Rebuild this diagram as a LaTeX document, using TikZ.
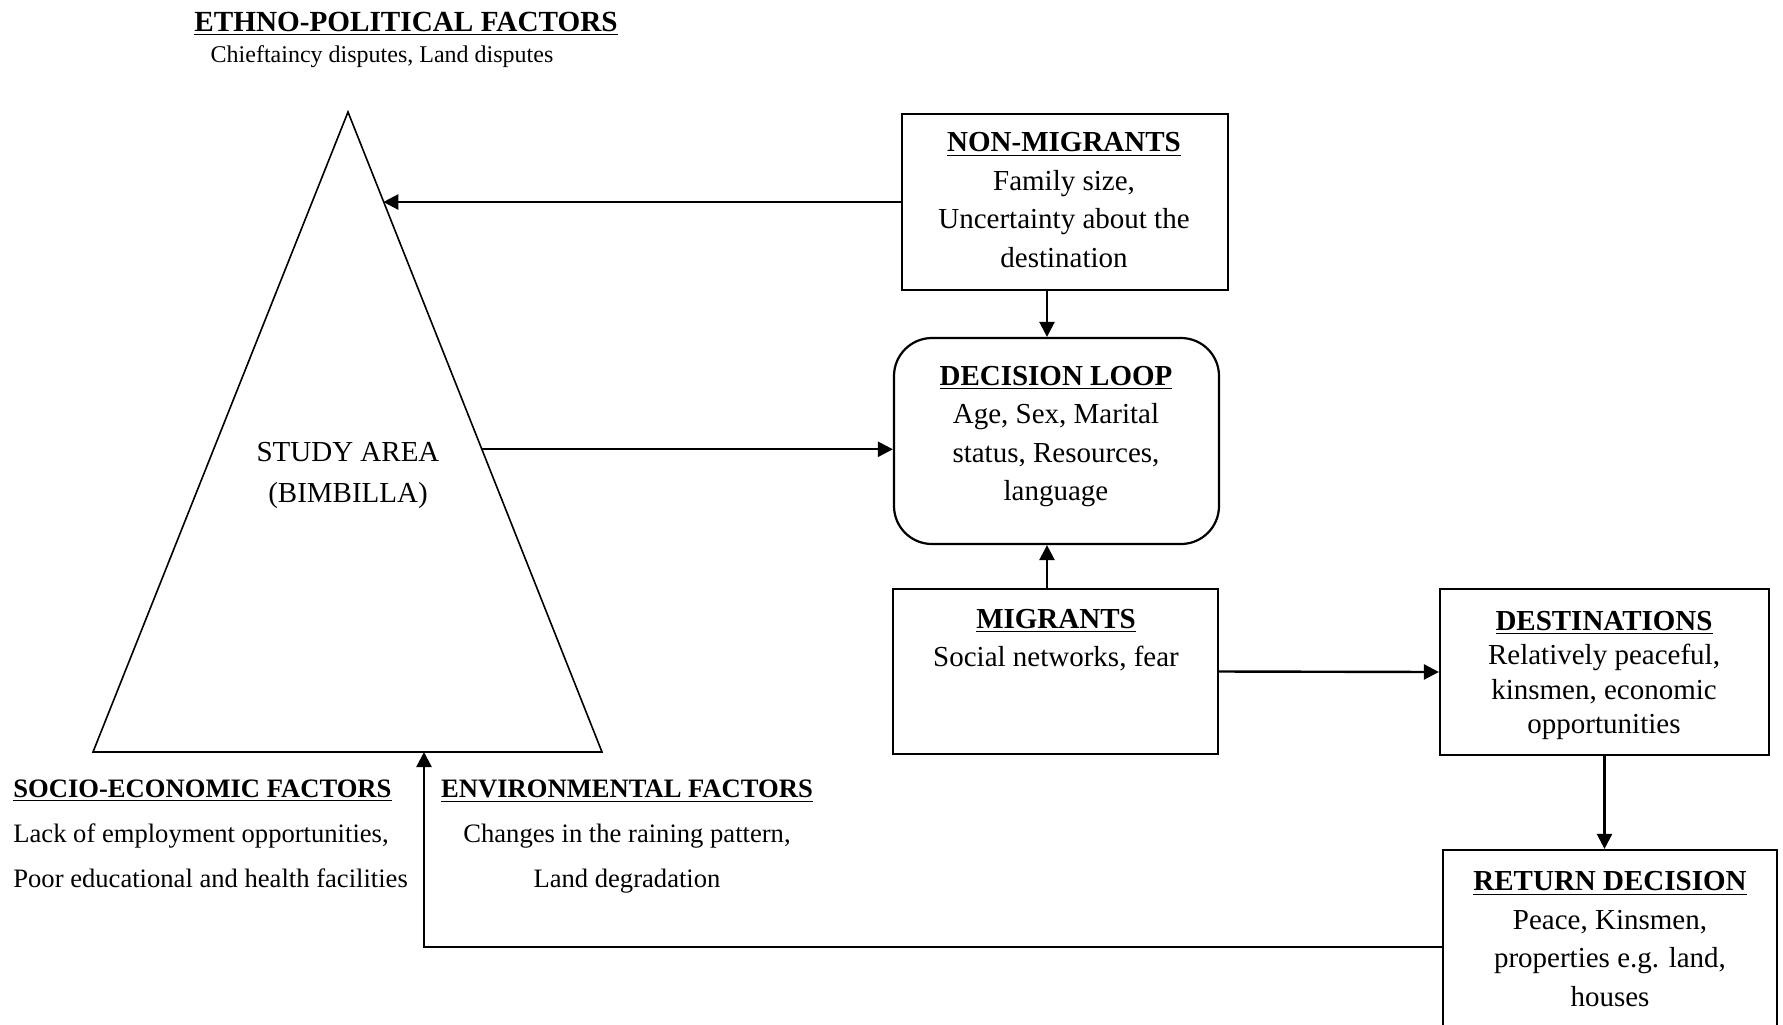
\documentclass[tikz,border=0pt]{standalone}
\usepackage{fontspec}
\setmainfont{Liberation Serif}
\usetikzlibrary{arrows.meta,calc}
\begin{document}
\begin{tikzpicture}[x=0.5pt,y=-0.5pt,
  box/.style={draw,line width=1.1pt,rectangle,inner sep=0pt},
  rbox/.style={box,rounded corners=19pt},
  txt/.style={align=center,inner sep=0pt,font=\fontsize{14.5}{19.2}\selectfont},
  lowtxt/.style={inner sep=0pt,font=\fontsize{13.3}{22.5}\selectfont},
  arr/.style={line width=1.2pt,-{Triangle[length=7.5pt,width=7.5pt]}}]
\useasboundingbox (0,0) rectangle (1783,1024);
\clip (0,0) rectangle (1783,1024);

% header
\node[inner sep=0pt,font=\fontsize{14.6}{18}\selectfont\bfseries] (eth) at (406,23.5) {\underline{ETHNO-POLITICAL FACTORS}};
\node[inner sep=0pt,font=\fontsize{12}{14}\selectfont] (ethsub) at (382,57) {Chieftaincy disputes, Land disputes};

% triangle
\coordinate (apex) at (348,112);
\coordinate (bl) at (93,752);
\coordinate (br) at (602,752);
\draw[line width=0.8pt] (apex) -- (br) -- (bl) -- cycle;
\node[txt,font=\fontsize{14.5}{20.5}\selectfont] (study) at (348,475) {STUDY AREA\\(BIMBILLA)};

% boxes
\node[box,minimum width=326pt*0.5,minimum height=176pt*0.5] (nm) at (1065,202) {};
\node[txt] (nmT) at (1064,200) {\textbf{\underline{NON-MIGRANTS}}\\Family size,\\Uncertainty about the\\destination};

\node[rbox,minimum width=325pt*0.5,minimum height=206pt*0.5] (dl) at (1056.5,441) {};
\node[txt] (dlT) at (1056,436.5) {\textbf{\underline{DECISION LOOP}}\\Age, Sex, Marital\\status, Resources,\\language};

\node[box,minimum width=325pt*0.5,minimum height=165pt*0.5] (mig) at (1055.5,671.5) {};
\node[txt] (migT) at (1056,640) {\textbf{\underline{MIGRANTS}}\\Social networks, fear};

\node[box,minimum width=329pt*0.5,minimum height=166pt*0.5] (dest) at (1604.5,672) {};
\node[txt,font=\fontsize{14.5}{17.3}\selectfont] (destT) at (1604,675.5) {\textbf{\underline{DESTINATIONS}}\\Relatively peaceful,\\kinsmen, economic\\opportunities};

\node[box,minimum width=334pt*0.5,minimum height=194pt*0.5] (rd) at (1610,947) {};
\node[txt] (rdT) at (1610,939) {\textbf{\underline{RETURN DECISION}}\\Peace, Kinsmen,\\properties e.g. land,\\houses};

% lower factors
\node[lowtxt,align=left,anchor=west] (soc) at (13,834) {\textbf{\underline{SOCIO-ECONOMIC FACTORS}}\\Lack of employment opportunities,\\Poor educational and health facilities};
\node[lowtxt,align=center] (env) at (627,837) {\textbf{\underline{ENVIRONMENTAL FACTORS}}\\Changes in the raining pattern,\\Land degradation};

% connectors
\coordinate (t1) at ($(apex)!0.139!(br)$);
\coordinate (t2) at ($(apex)!0.527!(br)$);
\coordinate (ax) at (1047,0);
\coordinate (bx) at (424,752);
\draw[arr] (nm.west) -- (nm.west -| t1);
\draw[arr] (t2) -- (t2 -| dl.west);
\draw[arr] (nm.south -| ax) -- (dl.north -| ax);
\draw[arr] (mig.north -| ax) -- (dl.south -| ax);
\draw[arr] (mig.east) -- (dest.west);
\draw[arr] (dest.south) -- (rd.north -| dest.south);
\draw[arr] (rd.west) -| (bx);
\end{tikzpicture}
\end{document}
